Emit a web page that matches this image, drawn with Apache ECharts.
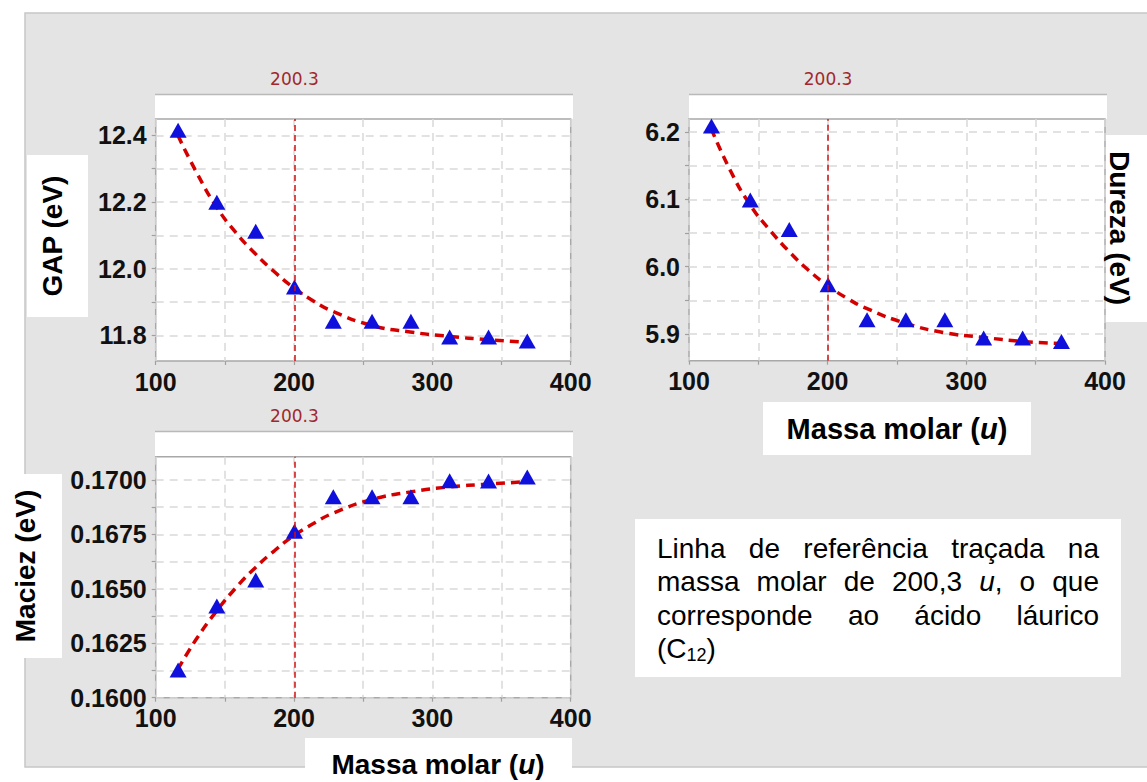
<!DOCTYPE html>
<html><head><meta charset="utf-8">
<script src="https://cdn.jsdelivr.net/npm/echarts@6/dist/echarts.min.js"></script>
<style>html,body{margin:0;padding:0;background:#fff}#c{width:1147px;height:782px}</style>
</head><body><div id="c"></div>
<script>
// ---------- data ----------
const molarMass = [116.2, 144.2, 172.3, 200.3, 228.4, 256.4, 284.5, 312.5, 340.6, 368.6];
const gapValues = [12.415, 12.199, 12.112, 11.945, 11.842, 11.842, 11.842, 11.795, 11.795, 11.783];
const hardnessValues = [6.209, 6.099, 6.055, 5.973, 5.921, 5.921, 5.921, 5.894, 5.894, 5.889];
const softnessValues = [0.16127, 0.16421, 0.16541, 0.16765, 0.16923, 0.16923, 0.16923, 0.16997, 0.16995, 0.17014];

const fitMass = [116, 130, 144, 158, 172, 186, 200, 214, 228, 256, 284, 312, 340, 368];
const gapFit = [12.40, 12.285, 12.185, 12.108, 12.045, 11.99, 11.942, 11.903, 11.872, 11.83, 11.81, 11.797, 11.787, 11.779];
const hardnessFit = [6.205, 6.142, 6.092, 6.055, 6.023, 5.995, 5.972, 5.953, 5.938, 5.916, 5.902, 5.895, 5.889, 5.886];
const softnessFit = [0.16131, 0.16275, 0.16398, 0.16505, 0.16597, 0.16676, 0.16745, 0.16800, 0.16847, 0.16910, 0.16945, 0.16968, 0.16981, 0.16992];

const referenceMass = 200.3;

const xTickValues = [100, 150, 200, 250, 300, 350, 400];
const xLabelValues = [100, 200, 300, 400];
const gapTickValues = [11.8, 11.9, 12.0, 12.1, 12.2, 12.3, 12.4];
const gapLabelValues = [11.8, 12.0, 12.2, 12.4];
const hardTickValues = [5.9, 5.95, 6.0, 6.05, 6.1, 6.15, 6.2];
const hardLabelValues = [5.9, 6.0, 6.1, 6.2];
const softTickValues = [0.16, 0.16125, 0.1625, 0.16375, 0.165, 0.16625, 0.1675, 0.16875, 0.17];
const softLabelValues = [0.16, 0.1625, 0.165, 0.1675, 0.17];

const titleGap = 'GAP (eV)';
const titleHard = 'Dureza (eV)';
const titleSoft = 'Maciez (eV)';
const noteLines = [
  'Linha de referência traçada na',
  'massa molar de 200,3 *u*, o que',
  'corresponde ao ácido láurico',
  '(C_12_)'
];

// ---------- helpers ----------
const FONT = '"Liberation Sans", Arial, sans-serif';
const zip = (a, b) => a.map((v, i) => [v, b[i]]);

function xAxisCfg(idx) {
  return {
    type: 'value', gridIndex: idx, min: 100, max: 400,
    axisLine: { show: false },
    axisTick: { show: true, customValues: xTickValues, length: 4, lineStyle: { color: '#a0a0a0', width: 1.2 } },
    axisLabel: { customValues: xLabelValues, fontSize: 25, fontWeight: 'bold', fontFamily: FONT, color: '#111', margin: 8 },
    splitLine: { show: true, lineStyle: { color: '#d9d9d9', width: 1.5, type: [8, 6] } }
  };
}
function yAxisCfg(idx, min, max, ticks, labels, dec) {
  return {
    type: 'value', gridIndex: idx, min: min, max: max,
    axisLine: { show: false },
    axisTick: { show: true, customValues: ticks, length: 4, lineStyle: { color: '#a0a0a0', width: 1.2 } },
    axisLabel: { customValues: labels, fontSize: 25, fontWeight: 'bold', fontFamily: FONT, color: '#111', margin: 9,
      formatter: v => Number(v).toFixed(dec) },
    splitLine: { show: true, lineStyle: { color: '#d9d9d9', width: 1.5, type: [8, 6] } }
  };
}
function panelSeries(idx, pts, fit) {
  return [
    {
      type: 'line', xAxisIndex: idx, yAxisIndex: idx, data: zip(fitMass, fit),
      smooth: true, symbol: 'none', z: 3,
      lineStyle: { color: '#d40000', width: 3.5, type: [9, 6] },
      markLine: {
        silent: true, symbol: 'none', animation: false,
        lineStyle: { color: '#d01010', width: 1.5, type: [6, 4] },
        label: { show: true, position: 'end', distance: 32, color: '#a0282d', fontSize: 17,
          fontFamily: '"DejaVu Sans", sans-serif', formatter: p => String(p.value) },
        data: [{ xAxis: referenceMass }]
      }
    },
    {
      type: 'scatter', xAxisIndex: idx, yAxisIndex: idx, data: zip(molarMass, pts),
      symbol: 'triangle', symbolSize: [17, 15], z: 4,
      itemStyle: { color: '#1010dc', opacity: 1 }
    }
  ];
}

// text measuring for the justified note
const mctx = document.createElement('canvas').getContext('2d');
const fontOf = k => k === 'i' ? 'italic 28px ' + FONT : (k === 'sub' ? '18px ' + FONT : '28px ' + FONT);
function measure(g) { mctx.font = fontOf(g.k); return mctx.measureText(g.t).width; }
function parseWord(w) {
  const parts = w.split(/(\*[^*]+\*|_[^_]+_)/).filter(s => s.length);
  return parts.map(p => p[0] === '*' ? { t: p.slice(1, -1), k: 'i' } : (p[0] === '_' ? { t: p.slice(1, -1), k: 'sub' } : { t: p, k: 'n' }));
}
function buildNote() {
  const els = [];
  const left = 657, right = 1099;
  const centers = [548, 581.5, 615, 648];
  noteLines.forEach((line, li) => {
    const words = line.split(' ');
    const segs = words.map(parseWord);
    const widths = segs.map(s => s.reduce((a, g) => a + measure(g), 0));
    const total = widths.reduce((a, b) => a + b, 0);
    const justify = li < noteLines.length - 1 && words.length > 1;
    const gap = justify ? (right - left - total) / (words.length - 1) : measure({ t: ' ', k: 'n' });
    let x = left;
    segs.forEach(ws => {
      ws.forEach(g => {
        els.push({ type: 'text', x: x, y: centers[li] + (g.k === 'sub' ? 7 : 0), z: 20,
          style: { text: g.t, font: fontOf(g.k), fill: '#000', textAlign: 'left', textVerticalAlign: 'middle', align: 'left', verticalAlign: 'middle' } });
        x += measure(g);
      });
      x += gap;
    });
  });
  return els;
}
function box(x, y, w, h) {
  return { type: 'rect', shape: { x: x, y: y, width: w, height: h }, style: { fill: '#fff' }, z: -5 };
}
function title(text, x, y, rot) {
  return { type: 'text', x: x, y: y, rotation: rot, z: 20,
    style: { text: text, font: 'bold 28px ' + FONT, fill: '#000', textAlign: 'center', textVerticalAlign: 'middle', align: 'center', verticalAlign: 'middle' } };
}
function massTitle(x, y, size) {
  return { type: 'text', x: x, y: y, z: 20,
    style: { text: '{b|Massa molar (}{i|u}{b|)}', textAlign: 'center', textVerticalAlign: 'middle', align: 'center', verticalAlign: 'middle',
      rich: { b: { font: 'bold ' + size + 'px ' + FONT, fill: '#000', color: '#000' }, i: { font: 'italic bold ' + size + 'px ' + FONT, fill: '#000', color: '#000' } } } };
}
function headerLine(x1, x2, y) {
  return { type: 'line', shape: { x1: x1, y1: y, x2: x2, y2: y }, style: { stroke: '#b9b9b9', lineWidth: 1.5 }, z: -4 };
}

const chart = echarts.init(document.getElementById('c'), null, { renderer: 'svg' });
const option = {
  animation: false,
  backgroundColor: '#ffffff',
  grid: [
    { left: 155.7, top: 119, width: 415, height: 242, show: true, backgroundColor: '#fff', borderColor: '#a8a8a8', borderWidth: 1.5 },
    { left: 689, top: 119, width: 416, height: 241.7, show: true, backgroundColor: '#fff', borderColor: '#a8a8a8', borderWidth: 1.5 },
    { left: 155.7, top: 456.7, width: 415, height: 241, show: true, backgroundColor: '#fff', borderColor: '#a8a8a8', borderWidth: 1.5 }
  ],
  xAxis: [xAxisCfg(0), xAxisCfg(1), xAxisCfg(2)],
  yAxis: [
    yAxisCfg(0, 11.723, 12.449, gapTickValues, gapLabelValues, 1),
    yAxisCfg(1, 5.8603, 6.2193, hardTickValues, hardLabelValues, 1),
    yAxisCfg(2, 0.16, 0.17107, softTickValues, softLabelValues, 4)
  ],
  series: [].concat(
    panelSeries(0, gapValues, gapFit),
    panelSeries(1, hardnessValues, hardnessFit),
    panelSeries(2, softnessValues, softnessFit)
  ),
  graphic: [
    { type: 'rect', shape: { x: 25, y: 13, width: 1130, height: 754 }, style: { fill: '#e4e4e4', stroke: '#c6c6c6', lineWidth: 1.5 }, z: -10 },
    box(155, 94, 418, 25), headerLine(155, 573, 94.5),
    box(689, 94, 418, 25), headerLine(689, 1107, 94.5),
    box(155, 431, 418, 26), headerLine(155, 573, 431.5),
    box(27, 155, 61, 162),
    box(1105, 135, 45, 187),
    box(763, 402, 268, 53),
    box(0, 474, 62, 184),
    box(305, 738, 267, 50),
    box(635, 519, 486, 158),
    title(titleGap, 52, 236, Math.PI / 2),
    title(titleHard, 1119, 228, -Math.PI / 2),
    title(titleSoft, 25, 566, Math.PI / 2),
    massTitle(897, 429, 29),
    massTitle(438, 764, 28)
  ].concat(buildNote())
};
chart.setOption(option);
</script></body></html>
